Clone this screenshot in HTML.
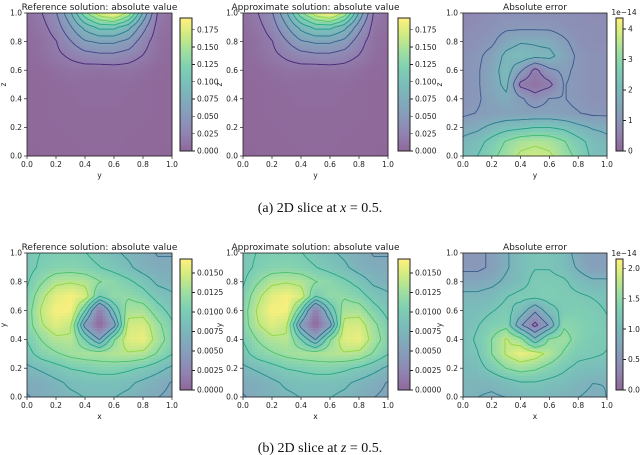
<!DOCTYPE html>
<html><head><meta charset="utf-8"><style>
html,body{margin:0;padding:0;background:#fff;width:640px;height:455px;overflow:hidden}
svg{display:block}
.t{font-family:"DejaVu Sans","Liberation Sans",sans-serif;fill:#222}
.cap{font-family:"Liberation Serif",serif;font-size:14px;fill:#111}
</style></head><body>
<svg id="fig" width="640" height="455" viewBox="0 0 640 455" xmlns="http://www.w3.org/2000/svg">
<text class="cap" x="320" y="212" text-anchor="middle">(a) 2D slice at <tspan font-style="italic">x</tspan> = 0.5.</text>
<text class="cap" x="320" y="452" text-anchor="middle">(b) 2D slice at <tspan font-style="italic">z</tspan> = 0.5.</text>
</svg>
<script>
// grids: rows from top (coord 1.0) to bottom (0.0), columns 0.0..1.0, as fraction of colorbar max
const topRefGrid = [
[0.05,0.10,0.20,0.40,0.70,0.90,1.00,0.80,0.40,0.10,0.05],
[0.03,0.07,0.15,0.30,0.45,0.55,0.55,0.45,0.25,0.07,0.03],
[0.02,0.05,0.10,0.20,0.30,0.33,0.33,0.28,0.15,0.05,0.02],
[0.02,0.04,0.08,0.12,0.16,0.18,0.18,0.15,0.10,0.04,0.02],
[0.01,0.02,0.04,0.06,0.06,0.05,0.06,0.06,0.04,0.02,0.01],
[0.01,0.01,0.02,0.03,0.03,0.03,0.03,0.03,0.02,0.01,0.01],
[0.01,0.01,0.02,0.02,0.03,0.03,0.03,0.02,0.02,0.01,0.01],
[0.01,0.01,0.02,0.02,0.02,0.02,0.02,0.02,0.02,0.01,0.01],
[0.01,0.01,0.01,0.02,0.02,0.02,0.02,0.02,0.01,0.01,0.01],
[0.01,0.01,0.01,0.01,0.02,0.02,0.02,0.01,0.01,0.01,0.01],
[0.00,0.01,0.01,0.01,0.01,0.01,0.01,0.01,0.01,0.01,0.00]];
const topErrGrid = [
[0.15,0.18,0.20,0.22,0.22,0.20,0.20,0.20,0.20,0.18,0.18],
[0.18,0.20,0.22,0.25,0.25,0.25,0.25,0.22,0.20,0.20,0.20],
[0.20,0.22,0.25,0.35,0.40,0.40,0.38,0.30,0.22,0.20,0.20],
[0.22,0.25,0.32,0.45,0.50,0.45,0.45,0.35,0.25,0.22,0.22],
[0.22,0.26,0.35,0.48,0.30,0.10,0.25,0.30,0.25,0.22,0.22],
[0.22,0.26,0.35,0.45,0.10,0.05,0.10,0.28,0.25,0.22,0.22],
[0.22,0.26,0.32,0.38,0.30,0.20,0.28,0.28,0.25,0.22,0.22],
[0.25,0.28,0.30,0.32,0.32,0.32,0.32,0.30,0.28,0.25,0.25],
[0.35,0.38,0.45,0.50,0.52,0.55,0.55,0.52,0.45,0.40,0.38],
[0.45,0.50,0.60,0.70,0.78,0.80,0.78,0.70,0.60,0.50,0.45],
[0.50,0.55,0.65,0.75,0.85,0.88,0.85,0.75,0.65,0.52,0.50]];
const botRefGrid = [
[0.55,0.60,0.62,0.62,0.60,0.55,0.50,0.45,0.40,0.35,0.35],
[0.55,0.62,0.65,0.66,0.64,0.60,0.55,0.50,0.42,0.38,0.38],
[0.58,0.70,0.80,0.82,0.80,0.72,0.68,0.62,0.55,0.45,0.42],
[0.62,0.80,0.93,0.98,0.90,0.60,0.70,0.70,0.65,0.55,0.50],
[0.65,0.85,0.98,0.98,0.60,0.10,0.50,0.78,0.78,0.65,0.55],
[0.65,0.82,0.92,0.85,0.30,0.00,0.30,0.88,0.90,0.75,0.62],
[0.60,0.72,0.80,0.82,0.60,0.35,0.70,0.92,0.95,0.78,0.65],
[0.55,0.65,0.70,0.75,0.78,0.78,0.80,0.82,0.80,0.70,0.60],
[0.45,0.50,0.55,0.60,0.62,0.65,0.65,0.62,0.58,0.52,0.45],
[0.38,0.40,0.45,0.50,0.52,0.52,0.52,0.50,0.45,0.40,0.35],
[0.35,0.38,0.42,0.45,0.48,0.48,0.48,0.45,0.40,0.36,0.33]];
const botErrGrid = [
[0.25,0.25,0.30,0.40,0.50,0.55,0.55,0.50,0.35,0.30,0.30],
[0.25,0.25,0.30,0.40,0.50,0.55,0.55,0.50,0.40,0.30,0.30],
[0.35,0.35,0.38,0.45,0.50,0.60,0.60,0.58,0.50,0.45,0.45],
[0.45,0.45,0.48,0.55,0.60,0.60,0.62,0.60,0.58,0.55,0.52],
[0.50,0.50,0.55,0.60,0.50,0.30,0.50,0.60,0.62,0.60,0.55],
[0.50,0.55,0.62,0.65,0.30,0.10,0.30,0.68,0.65,0.62,0.58],
[0.50,0.58,0.70,0.85,0.75,0.45,0.72,0.75,0.65,0.60,0.58],
[0.50,0.55,0.70,0.85,0.95,0.90,0.80,0.68,0.60,0.58,0.55],
[0.48,0.50,0.60,0.70,0.75,0.72,0.65,0.58,0.52,0.50,0.50],
[0.45,0.45,0.45,0.50,0.55,0.55,0.52,0.50,0.45,0.42,0.42],
[0.45,0.42,0.40,0.42,0.45,0.47,0.45,0.42,0.42,0.40,0.42]];
const axisTicks = [0,0.2,0.4,0.6,0.8,1.0];
const axisTickLabels = ["0.0","0.2","0.4","0.6","0.8","1.0"];
const topRefCbTicks = [0,0.025,0.05,0.075,0.1,0.125,0.15,0.175];
const topRefCbLabels = ["0.000","0.025","0.050","0.075","0.100","0.125","0.150","0.175"];
const topRefMax = 0.192;
const topRefLevels = [0.02,0.04,0.06,0.08,0.10,0.12,0.14,0.16];
const topErrCbTicks = [0,1,2,3,4];
const topErrCbLabels = ["0","1","2","3","4"];
const topErrMax = 4.36;
const topErrLevels = [0.6,1.2,1.8,2.4,3.0,3.6];
const botRefCbTicks = [0,0.0025,0.005,0.0075,0.01,0.0125,0.015];
const botRefCbLabels = ["0.0000","0.0025","0.0050","0.0075","0.0100","0.0125","0.0150"];
const botRefMax = 0.0168;
const botRefLevels = [0.006,0.008,0.010,0.012,0.014];
const botErrCbTicks = [0,0.5,1.0,1.5,2.0];
const botErrCbLabels = ["0.0","0.5","1.0","1.5","2.0"];
const botErrMax = 2.15;
const botErrLevels = [0.3,0.6,0.9,1.2,1.5,1.8];

const NS="http://www.w3.org/2000/svg";
const fig=document.getElementById('fig');
const VS=[[0,[68,1,84]],[0.125,[71,45,123]],[0.25,[59,82,139]],[0.375,[44,114,142]],[0.5,[33,145,140]],[0.625,[40,174,128]],[0.75,[94,201,98]],[0.875,[173,220,48]],[1,[253,231,37]]];
function virArr(t){t=Math.max(0,Math.min(1,t));for(let i=1;i<VS.length;i++){if(t<=VS[i][0]){const a=VS[i-1],b=VS[i],f=(t-a[0])/(b[0]-a[0]);return a[1].map((c,k)=>c+(b[1][k]-c)*f);}}return [253,231,37];}
function vir(t){return 'rgb('+virArr(t).map(Math.round).join(',')+')';}
function virA(t){return 'rgb('+virArr(t).map(c=>Math.round(c*0.6+255*0.4)).join(',')+')';}
function el(tag,attrs,parent){const e=document.createElementNS(NS,tag);for(const k in attrs)e.setAttribute(k,attrs[k]);(parent||fig).appendChild(e);return e;}
function sample(g,u,v){const n=g.length-1;const x=Math.min(n-1e-9,Math.max(0,u*n)),y=Math.min(n-1e-9,Math.max(0,v*n));const i=Math.floor(y),j=Math.floor(x),fy=y-i,fx=x-j;return g[i][j]*(1-fx)*(1-fy)+g[i][j+1]*fx*(1-fy)+g[i+1][j]*(1-fx)*fy+g[i+1][j+1]*fx*fy;}
function txt(s,x,y,size,anchor,parent,name,extra){const t=el('text',Object.assign({class:'t',x:x,y:y,'font-size':size,'text-anchor':anchor||'middle'},extra||{}),parent);t.textContent=s;return t;}

function panel(o){
  const g=el('g',{});
  
  
  const X0=o.x,Y0=o.y,W=o.w,H=o.h,N=48,cw=W/N,ch=H/N;
  const hm=el('g',{'shape-rendering':'crispEdges'},g);
  
  
  for(let i=0;i<N;i++)for(let j=0;j<N;j++){
    const v=sample(o.grid,(j+0.5)/N,(i+0.5)/N);
    const r=el('rect',{x:(X0+j*cw).toFixed(2),y:(Y0+i*ch).toFixed(2),width:(cw+0.6).toFixed(2),height:(ch+0.6).toFixed(2),fill:virA(v)},hm);
    
    
  }
  const M=60,fv=[];
  for(let i=0;i<=M;i++){fv.push([]);for(let j=0;j<=M;j++)fv[i].push(sample(o.grid,j/M,i/M));}
  o.levels.forEach(L=>{
    const lv=L/o.max;let d='';
    for(let i=0;i<M;i++)for(let j=0;j<M;j++){
      const c=[[j,i,fv[i][j]],[j+1,i,fv[i][j+1]],[j+1,i+1,fv[i+1][j+1]],[j,i+1,fv[i+1][j]]];const pts=[];
      for(let k=0;k<4;k++){const a=c[k],b=c[(k+1)%4];if((a[2]<lv)!==(b[2]<lv)){const f=(lv-a[2])/(b[2]-a[2]);pts.push([X0+(a[0]+(b[0]-a[0])*f)*W/M,Y0+(a[1]+(b[1]-a[1])*f)*H/M]);}}
      for(let k=0;k+1<pts.length;k+=2)d+='M'+pts[k][0].toFixed(1)+' '+pts[k][1].toFixed(1)+'L'+pts[k+1][0].toFixed(1)+' '+pts[k+1][1].toFixed(1);
    }
    if(d){const p=el('path',{d:d,stroke:vir(lv),'stroke-width':0.9,fill:'none','stroke-linecap':'round'},g);
      
      }
  });
  el('rect',{x:X0,y:Y0,width:W,height:H,fill:'none',stroke:'#222','stroke-width':0.8},g);
  axisTicks.forEach((t,k)=>{
    const xx=X0+t*W,yy=Y0+H-t*H;
    el('line',{x1:xx,y1:Y0+H,x2:xx,y2:Y0+H+3,stroke:'#222','stroke-width':0.7},g);
    txt(axisTickLabels[k],xx,Y0+H+11,7.5,'middle',g,'x-tick-label');
    el('line',{x1:X0,y1:yy,x2:X0-3,y2:yy,stroke:'#222','stroke-width':0.7},g);
    txt(axisTickLabels[k],X0-5,yy+2.7,7.5,'end',g,'y-tick-label');
  });
  txt(o.title,X0+W/2,Y0-3,9,'middle',g,'panel-title');
  txt(o.xlabel,X0+W/2,Y0+H+22,7.5,'middle',g,'x-axis-title');
  txt(o.ylabel,X0-24,Y0+H/2+3,7.5,'middle',g,'y-axis-title',{transform:'rotate(-90 '+(X0-24)+' '+(Y0+H/2)+')'});
  const cb=el('g',{'shape-rendering':'crispEdges'},g);
  
  
  const CB=o.cb,NB=60,bh=CB.h/NB;
  for(let k=0;k<NB;k++){el('rect',{x:CB.x,y:(CB.y+CB.h-(k+1)*bh).toFixed(2),width:CB.w,height:(bh+0.6).toFixed(2),fill:virA((k+0.5)/NB)},cb);}
  el('rect',{x:CB.x,y:CB.y,width:CB.w,height:CB.h,fill:'none',stroke:'#222','stroke-width':0.7},cb);
  o.cbTicks.forEach((t,k)=>{const yy=CB.y+CB.h-t/o.max*CB.h;
    el('line',{x1:CB.x+CB.w,y1:yy,x2:CB.x+CB.w+3,y2:yy,stroke:'#222','stroke-width':0.7},cb);
    txt(o.cbLabels[k],CB.x+CB.w+5,yy+2.7,7.5,'start',cb,'colorbar-tick-label');});
  if(o.exp)txt('1e−14',CB.x+CB.w+1,CB.y-3,7.5,'middle',cb,'colorbar-exponent');
}
panel({name:'top-reference-panel',x:27,y:13,w:145,h:143,grid:topRefGrid,max:topRefMax,levels:topRefLevels,cb:{x:180,y:18,w:12,h:133},cbTicks:topRefCbTicks,cbLabels:topRefCbLabels,title:'Reference solution: absolute value',xlabel:'y',ylabel:'z'});
panel({name:'top-approximate-panel',x:243,y:13,w:145,h:143,grid:topRefGrid,max:topRefMax,levels:topRefLevels,cb:{x:398,y:18,w:12,h:133},cbTicks:topRefCbTicks,cbLabels:topRefCbLabels,title:'Approximate solution: absolute value',xlabel:'y',ylabel:'z'});
panel({name:'top-error-panel',x:463,y:13,w:144,h:143,grid:topErrGrid,max:topErrMax,levels:topErrLevels,cb:{x:616,y:18,w:7,h:133},cbTicks:topErrCbTicks,cbLabels:topErrCbLabels,title:'Absolute error',xlabel:'y',ylabel:'z',exp:true});
panel({name:'bottom-reference-panel',x:27,y:253,w:145,h:144,grid:botRefGrid,max:botRefMax,levels:botRefLevels,cb:{x:180,y:259,w:12,h:131},cbTicks:botRefCbTicks,cbLabels:botRefCbLabels,title:'Reference solution: absolute value',xlabel:'x',ylabel:'y'});
panel({name:'bottom-approximate-panel',x:243,y:253,w:145,h:144,grid:botRefGrid,max:botRefMax,levels:botRefLevels,cb:{x:398,y:259,w:12,h:131},cbTicks:botRefCbTicks,cbLabels:botRefCbLabels,title:'Approximate solution: absolute value',xlabel:'x',ylabel:'y'});
panel({name:'bottom-error-panel',x:463,y:253,w:144,h:144,grid:botErrGrid,max:botErrMax,levels:botErrLevels,cb:{x:616,y:259,w:7,h:131},cbTicks:botErrCbTicks,cbLabels:botErrCbLabels,title:'Absolute error',xlabel:'x',ylabel:'y',exp:true});
</script>
</body></html>
